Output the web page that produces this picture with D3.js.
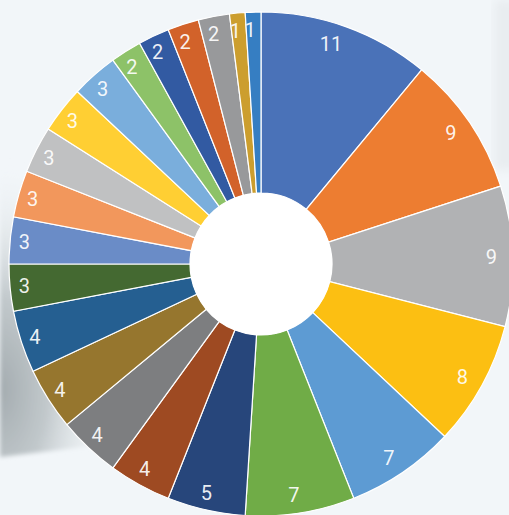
<!DOCTYPE html>
<html>
<head>
<meta charset="utf-8">
<script src="https://cdn.jsdelivr.net/npm/d3@7"></script>
<style>
  html, body { margin: 0; padding: 0; background: #f2f6f9; overflow: hidden; }
  svg { display: block; }
</style>
</head>
<body>
<script>
const width = 509;
const height = 515;

// slice values, clockwise from 12 o'clock
const values = [11, 9, 9, 8, 7, 7, 5, 4, 4, 4, 4, 3, 3, 3, 3, 3, 3, 2, 2, 2, 2, 1, 1];
const colors = [
  "#4a72b8", "#ed7d31", "#b1b2b4", "#fcbf12", "#5d9bd3", "#70ac47",
  "#27467b", "#9e4a22", "#7d7e80", "#96762e", "#255f91", "#446931",
  "#6a8cc7", "#f2975c", "#c0c1c2", "#ffcf33", "#7aaedc", "#8dc268",
  "#325aa2", "#d2622a", "#98999b", "#cc9e2e", "#367ec2"
];

const cx = 261, cy = 264;
const outer = 252, inner = 71, labelR = 234;

const svg = d3.select("body")
  .append("svg")
  .attr("width", width)
  .attr("height", height);

const defs = svg.append("defs");

// soft grey shadow of the photo backdrop at lower left
const grad = defs.append("radialGradient")
  .attr("id", "shade")
  .attr("cx", 0.0).attr("cy", 0.78).attr("r", 0.75);
grad.append("stop").attr("offset", "0%").attr("stop-color", "#a4acb0");
grad.append("stop").attr("offset", "40%").attr("stop-color", "#c2c9cc");
grad.append("stop").attr("offset", "100%").attr("stop-color", "#f2f6f9").attr("stop-opacity", 0);

defs.append("filter").attr("id", "blur")
  .append("feGaussianBlur").attr("stdDeviation", 5);
defs.append("filter").attr("id", "blur2")
  .append("feGaussianBlur").attr("stdDeviation", 2);

svg.append("rect")
  .attr("width", width).attr("height", height)
  .attr("fill", "#f2f6f9");

svg.append("path")
  .attr("d", "M0,150 L150,190 L160,438 L0,457 Z")
  .attr("fill", "url(#shade)")
  .attr("filter", "url(#blur2)");

svg.append("rect")
  .attr("x", 494).attr("y", 0).attr("width", 30).attr("height", 170)
  .attr("fill", "#e9edf0")
  .attr("filter", "url(#blur)");

const pie = d3.pie().sort(null).value(d => d);
const arcs = pie(values);

const arc = d3.arc().innerRadius(inner).outerRadius(outer);
const labelArc = d3.arc().innerRadius(labelR).outerRadius(labelR);

const g = svg.append("g").attr("transform", `translate(${cx},${cy})`);

g.selectAll("path.slice")
  .data(arcs)
  .enter()
  .append("path")
  .attr("class", "slice")
  .attr("d", arc)
  .attr("fill", (d, i) => colors[i])
  .attr("stroke", "#ffffff")
  .attr("stroke-width", 1.2);

g.append("circle")
  .attr("r", inner)
  .attr("fill", "#ffffff");

g.selectAll("text.lbl")
  .data(arcs)
  .enter()
  .append("text")
  .attr("class", "lbl")
  .attr("transform", d => `translate(${labelArc.centroid(d)})`)
  .attr("text-anchor", "end")
  .attr("dx", 2)
  .attr("dy", "0.36em")
  .attr("font-family", "Roboto, sans-serif")
  .attr("font-size", 20)
  .attr("fill", "#ffffff")
  .attr("fill-opacity", 0.92)
  .text(d => d.data);
</script>
</body>
</html>
